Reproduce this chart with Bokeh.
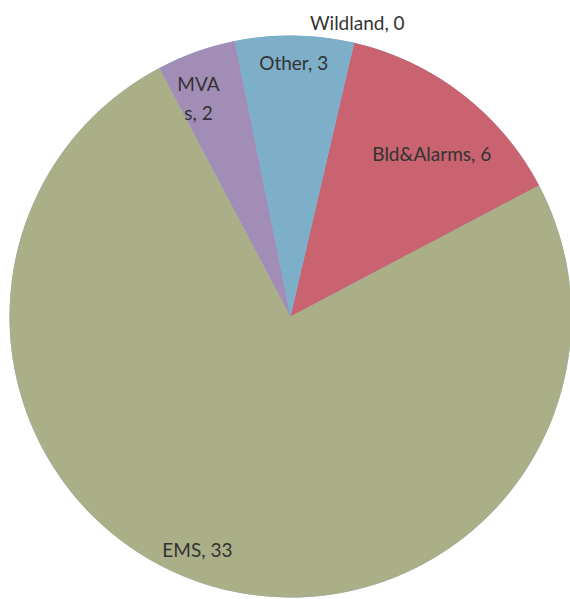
import math
from bokeh.plotting import figure
from bokeh.models import Range1d, ColumnDataSource
from bokeh.core.properties import value
from bokeh.embed import file_html
from bokeh.resources import INLINE

# ---- data ----
categories = ["Wildland", "Bld&Alarms", "EMS", "MVAs", "Other"]
counts = [0, 6, 33, 2, 3]
label_texts = ["Wildland, 0", "Bld&Alarms, 6", "EMS, 33", "MVA\ns, 2", "Other, 3"]

# ---- style ----
colors = ["#8EB4E3", "#C8636F", "#AAAF87", "#A28DB7", "#7EAFC9"]
label_r = [1.073, 0.767, 0.893, 0.844, 0.904]       # radial position factor
label_dang = [-0.3, 3.3, 4.6, -3.2, -0.1]           # angle offset (deg)
first_angle = 13.1                                   # clockwise from 12 o'clock

W, H = 570, 599
cx, cy, R = 290, H - 316, 281

total = sum(counts)
starts, ends, mids = [], [], []
acc = first_angle
for c in counts:
    a0 = acc
    a1 = acc + 360.0 * c / total
    starts.append(a0)
    ends.append(a1)
    mids.append((a0 + a1) / 2)
    acc = a1

src = ColumnDataSource(dict(
    start=[math.radians(90 - a) for a in starts],
    end=[math.radians(90 - a) for a in ends],
    color=colors,
    cat=categories,
))

lx, ly = [], []
for m, rf, da in zip(mids, label_r, label_dang):
    th = math.radians(m + da)
    lx.append(cx + R * rf * math.sin(th))
    ly.append(cy + R * rf * math.cos(th))

p = figure(width=W, height=H, x_range=Range1d(0, W), y_range=Range1d(0, H),
           output_backend="svg", toolbar_location=None, min_border=0)
p.axis.visible = False
p.grid.visible = False
p.outline_line_color = None
p.background_fill_color = "white"

p.wedge(x=cx, y=cy, radius=R, start_angle="start", end_angle="end",
        direction="clock", fill_color="color", line_color=None, source=src)

p.text(x=lx, y=ly, text=label_texts, text_align="center", text_baseline="middle",
       text_font=value("Lato"), text_font_size="19px", text_color="#333333",
       text_line_height=1.25)

open("out.html", "w").write(file_html(p, INLINE))
